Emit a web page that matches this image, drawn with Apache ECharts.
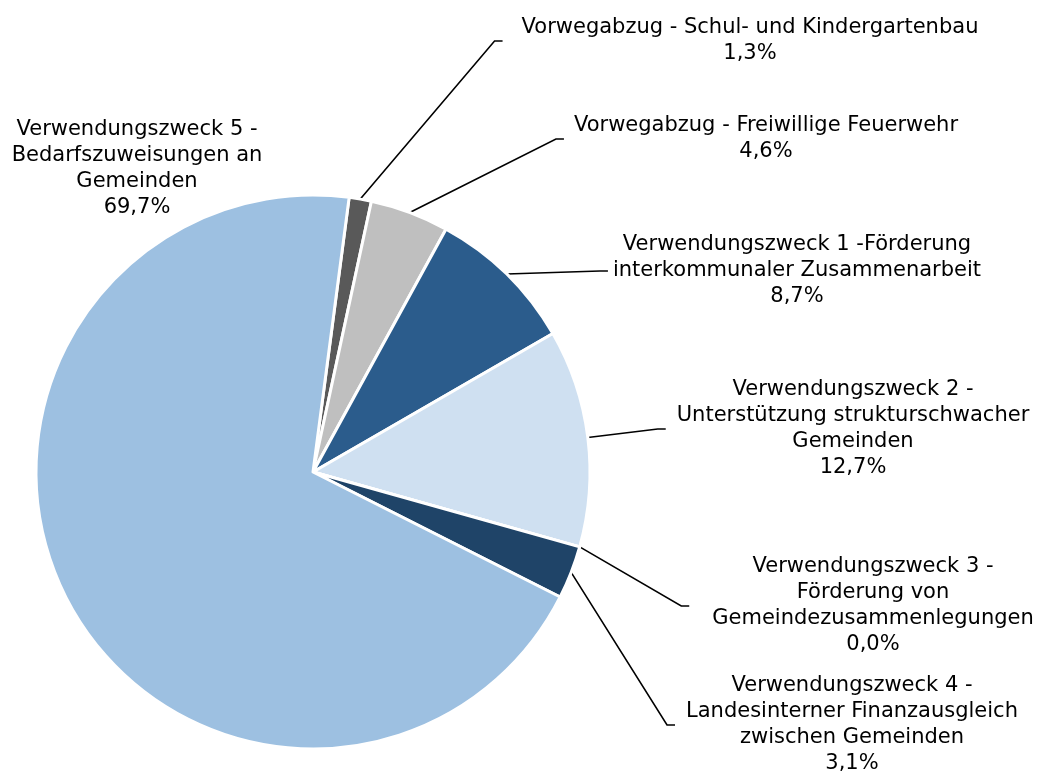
<!DOCTYPE html>
<html>
<head>
<meta charset="utf-8">
<script src="https://cdn.jsdelivr.net/npm/echarts@6/dist/echarts.min.js"></script>
<style>
  html, body { margin:0; padding:0; background:#fff; }
  #chart { width:1043px; height:776px; }
</style>
</head>
<body>
<div id="chart"></div>
<script>
// ====== Daten ======
const names = [
  'Vorwegabzug - Schul- und Kindergartenbau',
  'Vorwegabzug - Freiwillige Feuerwehr',
  'Verwendungszweck 1 -Förderung\ninterkommunaler Zusammenarbeit',
  'Verwendungszweck 2 -\nUnterstützung strukturschwacher\nGemeinden',
  'Verwendungszweck 3 -\nFörderung von\nGemeindezusammenlegungen',
  'Verwendungszweck 4 -\nLandesinterner Finanzausgleich\nzwischen Gemeinden',
  'Verwendungszweck 5 -\nBedarfszuweisungen an\nGemeinden'
];
const shares = [1.3, 4.6, 8.7, 12.7, 0.0, 3.1, 69.7];

// ---- Farben ----
const colors = ['#595959', '#bfbfbf', '#2b5c8c', '#cfe0f1', '#9dc0e1', '#1f4468', '#9dc0e1'];

// ---- Beschriftungslage: Textmitte, Abstand links, Versatz des Anschlusses ----
const labelCx   = [750, 766, 797, 853, 873, 852, 137];
const labelCy   = [32, 141, 254, 421, 579, 725, 169];
const padLeft   = [19, 10, 5, 11, 23, 11, 0];
const stubShift = [9, -2, 17, 8, 27, 0, 0];

function fmtPct(v){
  return v.toFixed(1).replace('.', ',') + '%';
}

const chart = echarts.init(document.getElementById('chart'));

const seriesData = names.map((n, i) => {
  const dy = stubShift[i];
  const pad = [dy < 0 ? -2 * dy : 0, 0, dy > 0 ? 2 * dy : 0, padLeft[i]];
  return {
    name: n,
    value: shares[i],
    itemStyle: { color: colors[i] },
    label: { padding: pad },
    labelLine: { show: i !== 6 }
  };
});

chart.setOption({
  backgroundColor: '#fff',
  animation: false,
  series: [{
    type: 'pie',
    center: [313, 472],
    radius: 277,
    startAngle: 82.5,
    clockwise: true,
    avoidLabelOverlap: false,
    emphasis: { disabled: true },
    itemStyle: { borderColor: '#fff', borderWidth: 3 },
    label: {
      show: true,
      position: 'outside',
      color: '#000',
      fontFamily: 'DejaVu Sans',
      fontSize: 21,
      lineHeight: 26,
      align: 'center',
      backgroundColor: 'rgba(0,0,0,0)',
      formatter: p => p.name + '\n' + fmtPct(p.value)
    },
    labelLine: {
      show: true,
      length: 20,
      length2: 8,
      smooth: false,
      lineStyle: { color: '#000', width: 1.6 }
    },
    labelLayout: function(params){
      const i = params.dataIndex;
      const dy = stubShift[i];
      const pT = dy < 0 ? -2 * dy : 0;
      const pB = dy > 0 ? 2 * dy : 0;
      return {
        x: labelCx[i] - padLeft[i] / 2,
        y: labelCy[i] - (pT - pB) / 2,
        align: 'center',
        verticalAlign: 'middle'
      };
    },
    data: seriesData
  }]
});
</script>
</body>
</html>
